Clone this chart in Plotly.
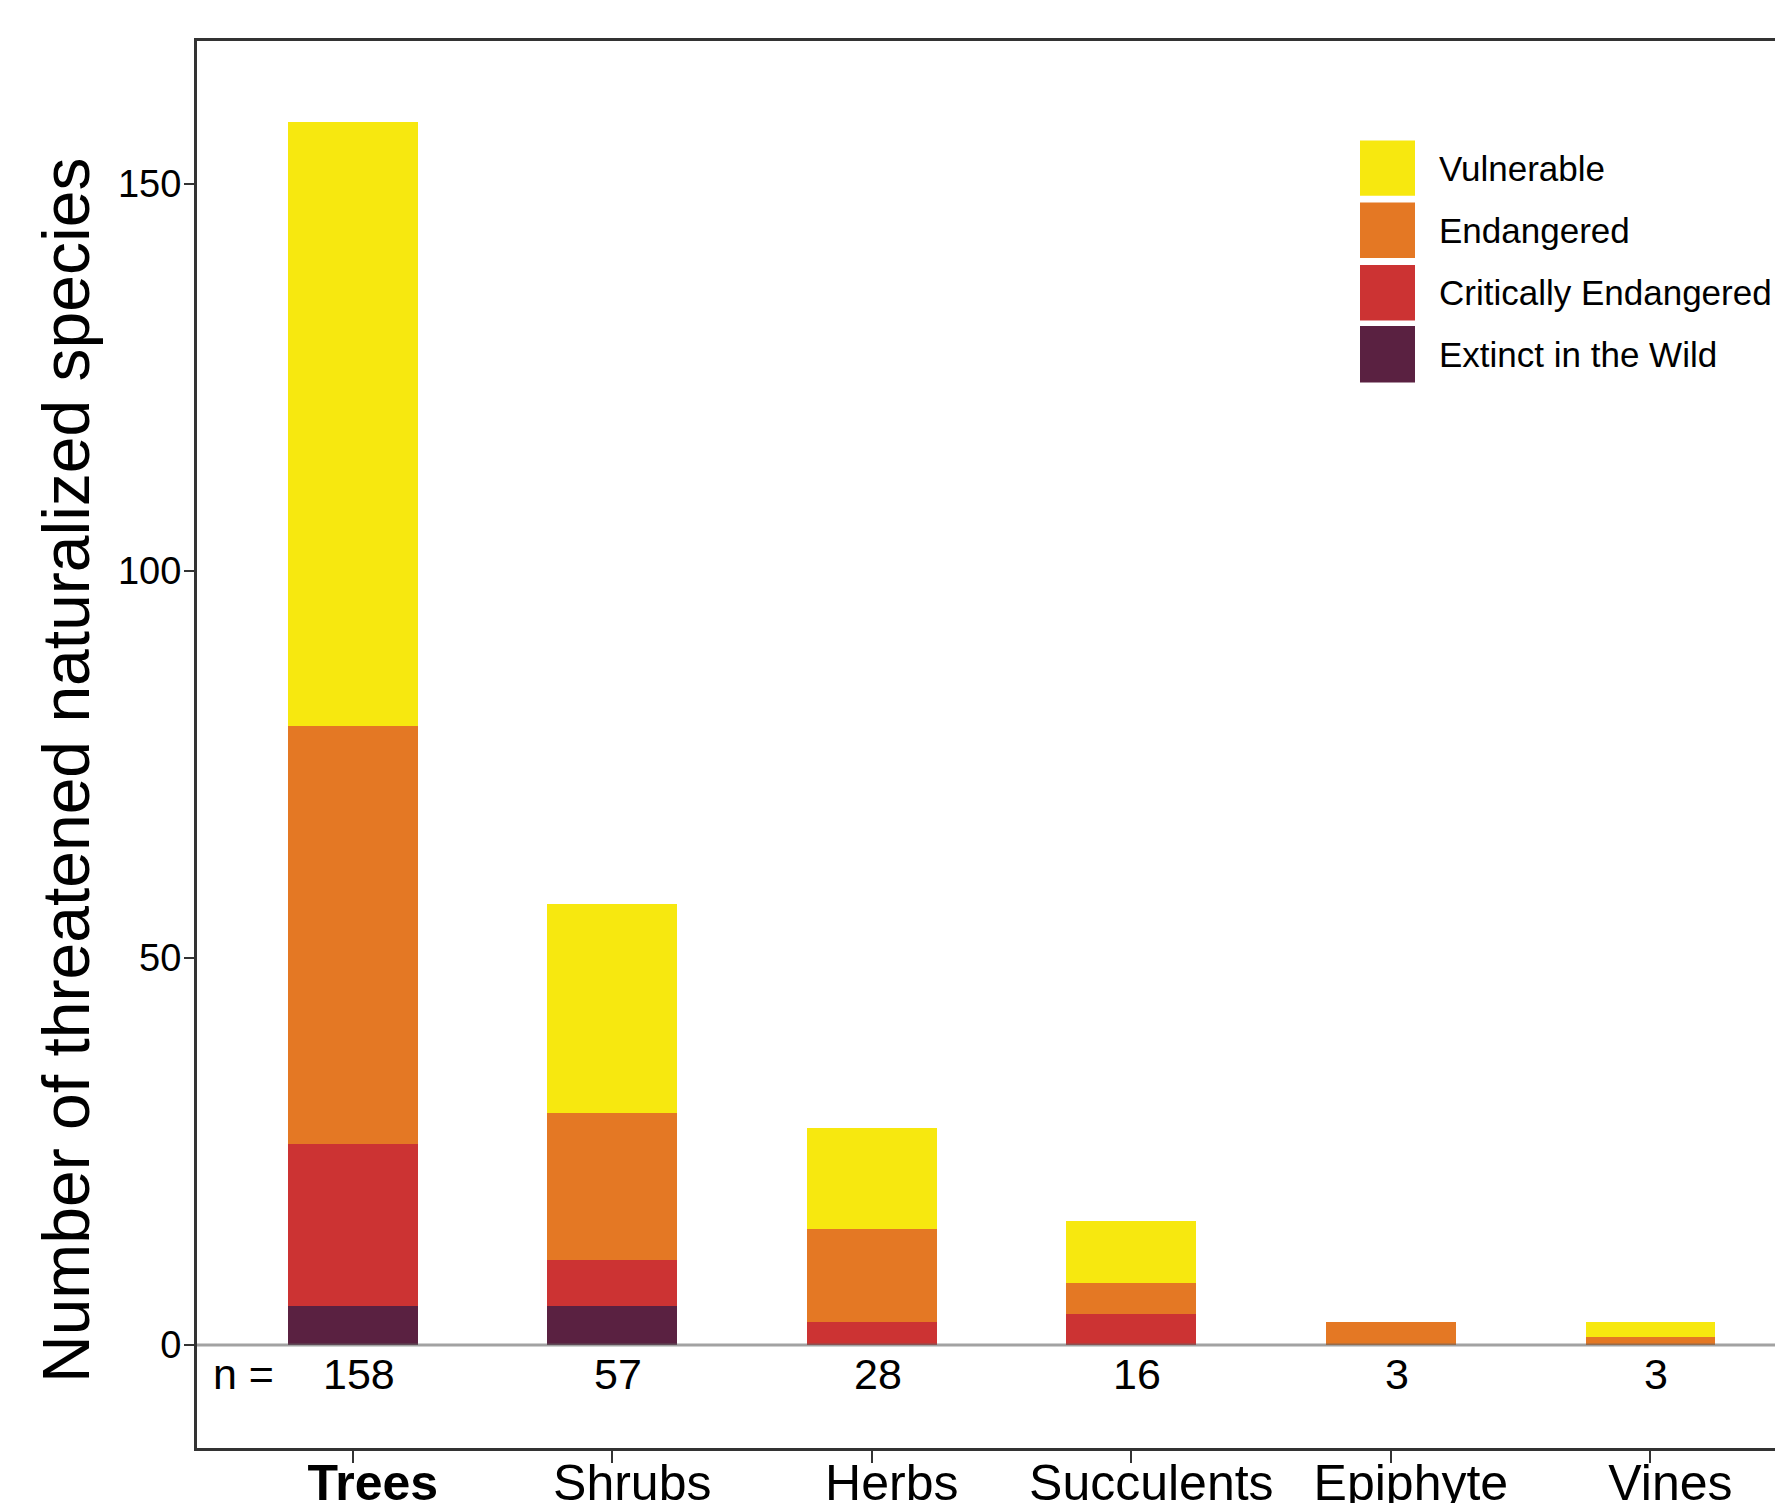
import plotly.graph_objects as go

# ---- data ----
categories = ["Trees", "Shrubs", "Herbs", "Succulents", "Epiphyte", "Vines"]
tick_labels = ["<b>Trees</b>", "Shrubs", "Herbs", "Succulents", "Epiphyte", "Vines"]
extinct_in_wild = [5, 5, 0, 0, 0, 0]
critically_endangered = [21, 6, 3, 4, 0, 0]
endangered = [54, 19, 12, 4, 3, 1]
vulnerable = [78, 27, 13, 8, 0, 2]
y_ticks = [0, 50, 100, 150]

series = [
    ("Extinct in the Wild", extinct_in_wild, "#5A2141"),
    ("Critically Endangered", critically_endangered, "#CC3333"),
    ("Endangered", endangered, "#E47824"),
    ("Vulnerable", vulnerable, "#F7E80F"),
]

totals = [sum(v) for v in zip(extinct_in_wild, critically_endangered, endangered, vulnerable)]

W, H = 1775, 1503
L, T, B = 197, 41, 55
pw, ph = W - L, H - T - B
FONT = "Liberation Sans, Arial, Helvetica, sans-serif"

fig = go.Figure()
xi = list(range(len(categories)))
for name, vals, col in series:
    fig.add_trace(go.Bar(x=xi, y=vals, name=name, marker=dict(color=col, line=dict(width=0)),
                         width=0.5, showlegend=False))

# zero line drawn above bars
fig.add_hline(y=0, line=dict(color="rgba(100,100,100,0.6)", width=3), layer="above")

# n labels
fig.add_annotation(x=-0.42, y=-3.8, text="n =", showarrow=False, xref="x", yref="y",
                   font=dict(size=43, color="black", family=FONT))
for i, t in enumerate(totals):
    fig.add_annotation(x=i, y=-3.8, text=str(t), showarrow=False, xref="x", yref="y", xshift=6,
                       font=dict(size=43, color="black", family=FONT))


def px_x(p):
    return (p - L) / pw


def px_y(p):
    return (H - B - p) / ph


# manual legend (top-down: Vulnerable, Endangered, Critically Endangered, Extinct in the Wild)
legend_rows = [(140.4, 195.8), (202.6, 258.1), (264.9, 320.4), (326.0, 382.6)]
for (name, vals, col), (y0, y1) in zip(list(reversed(series)), legend_rows):
    fig.add_shape(type="rect", xref="paper", yref="paper", x0=px_x(1360), x1=px_x(1415),
                  y0=px_y(y1), y1=px_y(y0), fillcolor=col, line=dict(width=0), layer="above")
    fig.add_annotation(xref="paper", yref="paper", x=px_x(1437), y=px_y((y0 + y1) / 2),
                       xanchor="left", yanchor="middle", text=name, showarrow=False,
                       font=dict(size=35, color="black", family=FONT))

# y-axis title
fig.add_annotation(xref="paper", yref="paper", x=px_x(66), y=px_y(771), textangle=-90,
                   xanchor="center", yanchor="middle", showarrow=False,
                   text="Number of threatened naturalized species",
                   font=dict(size=66, color="black", family=FONT))

fig.update_layout(
    width=W, height=H,
    margin=dict(l=L, r=0, t=T, b=B, autoexpand=False),
    barmode="stack",
    plot_bgcolor="white", paper_bgcolor="white",
    font=dict(family=FONT, color="black"),
    bargap=0.5,
)
fig.update_xaxes(
    range=[-0.6, 5.48], tickmode="array", tickvals=xi, ticktext=tick_labels,
    showline=True, linecolor="#333333", linewidth=3, mirror=True,
    ticks="outside", ticklen=12, tickwidth=2, tickcolor="#333333",
    tickfont=dict(size=50, color="black", family=FONT), ticklabelshift=20,
    ticklabelstandoff=-23,
    showgrid=False, zeroline=False, automargin=False,
)
fig.update_yaxes(
    range=[-13.3, 168.5], tickmode="array", tickvals=y_ticks,
    showline=True, linecolor="#333333", linewidth=3, mirror=False,
    ticks="outside", ticklen=10, tickwidth=2, tickcolor="#333333",
    tickfont=dict(size=38, color="black", family=FONT), ticklabelstandoff=-5,
    showgrid=False, zeroline=False, automargin=False,
)

fig.write_html("out.html", config={"displayModeBar": False},
               post_script="document.body.style.margin='0';")
